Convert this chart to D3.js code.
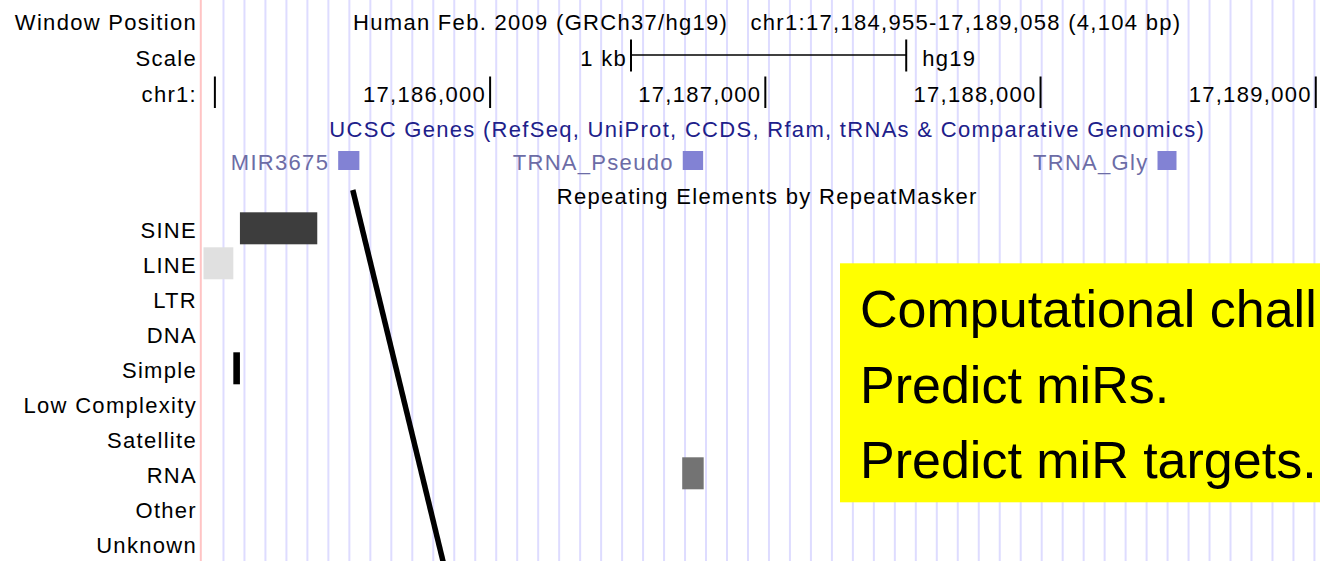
<!DOCTYPE html>
<html>
<head>
<meta charset="utf-8">
<script src="https://cdn.jsdelivr.net/npm/d3@7"></script>
<style>
    body { margin: 0; background: #fff; }
    svg { display: block; }
    .lbl { font-family: "Liberation Sans", Arial, sans-serif; font-size: 22px; letter-spacing: 1.3px; fill: #000; }
    .gene-lbl { fill: #6c6ca6; }
    .track-title { fill: #20208a; }
    .slide { font-family: "Liberation Sans", Arial, sans-serif; font-size: 52px; fill: #000; }
</style>
</head>
<body>
<div class="graphic"></div>
<script>
// window shown in the browser (hg19, chr1)
const chrom = "chr1"
const winStart = 17184955
const winEnd = 17189058
const title = "Human Feb. 2009 (GRCh37/hg19)\u00a0\u00a0\u00a0chr1:17,184,955-17,189,058 (4,104 bp)"
const rulerTicks = [17185000, 17186000, 17187000, 17188000, 17189000]
const rulerLabels = ["", "17,186,000", "17,187,000", "17,188,000", "17,189,000"]
const scaleBarBp = 1000

// UCSC Genes track
const geneNames = ["MIR3675", "TRNA_Pseudo", "TRNA_Gly"]
const geneStarts = [17185448, 17186700, 17188425]
const geneEnds = [17185525, 17186774, 17188494]

// RepeatMasker track
const repeatClasses = ["SINE", "LINE", "LTR", "DNA", "Simple", "Low Complexity", "Satellite", "RNA", "Other", "Unknown"]
const repeatClass = ["SINE", "LINE", "Simple", "RNA"]
const repeatStarts = [17185091, 17184900, 17185067, 17186698]
const repeatEnds = [17185372, 17185067, 17185091, 17186776]
const repeatShade = [0.76, 0.12, 1.0, 0.55]   // darkness of each hit

// slide text (first line is cut by the slide edge)
const slideLines = ["Computational chall", "Predict miRs.", "Predict miR targets."]

function drawBrowser(){
    var width = 1320
    var height = 561
    var left = 202.5, right = 1332   // data area of the image
    var labelX = 197
    var guideStep = 20.98

    var svg = d3.select(".graphic").append("svg")
        .attr("width", width)
        .attr("height", height)

    var x = d3.scaleLinear()
        .domain([winStart, winEnd + 1])
        .range([left, right])

    // blue guidelines
    var guides = d3.range(left + guideStep, width, guideStep)
    svg.append("g").selectAll("line")
        .data(guides)
        .join("line")
        .attr("x1", d => d).attr("x2", d => d)
        .attr("y1", 0).attr("y2", height)
        .style("stroke", "#dedcff")
        .style("stroke-width", 2)

    // red line between labels and image
    svg.append("line")
        .attr("x1", 200.8).attr("x2", 200.8)
        .attr("y1", 0).attr("y2", height)
        .style("stroke", "#ffc4c4")
        .style("stroke-width", 2)

    // left labels
    var sideLabels = [["Window Position", 30], ["Scale", 65.7], [chrom + ":", 101.7]]
    sideLabels.forEach(function(d){
        svg.append("text")
            .attr("class", "lbl")
            .attr("x", labelX)
            .attr("y", d[1])
            .attr("text-anchor", "end")
            .text(d[0])
    })

    var mid = (left + right) / 2
    svg.append("text")
        .attr("class", "lbl")
        .attr("x", mid)
        .attr("y", 30)
        .attr("text-anchor", "middle")
        .text(title)

    // scale bar
    var centerBp = (winStart + winEnd) / 2
    var sb0 = x(centerBp - scaleBarBp / 2) + 1.5
    var sb1 = x(centerBp + scaleBarBp / 2) + 1.5
    svg.append("path")
        .attr("d", "M" + sb0 + " 55 L" + sb1 + " 55")
        .style("stroke", "#000").style("stroke-width", 1.5)
    ;[sb0, sb1].forEach(function(p){
        svg.append("line")
            .attr("x1", p).attr("x2", p)
            .attr("y1", 39.5).attr("y2", 71.5)
            .style("stroke", "#000").style("stroke-width", 2)
    })
    svg.append("text")
        .attr("class", "lbl")
        .attr("x", sb0 - 4)
        .attr("y", 65.7)
        .attr("text-anchor", "end")
        .text(scaleBarBp / 1000 + " kb")
    svg.append("text")
        .attr("class", "lbl")
        .attr("x", sb1 + 16)
        .attr("y", 65.7)
        .text("hg19")

    // base position ruler
    rulerTicks.forEach(function(t, i){
        var tx = x(t)
        svg.append("line")
            .attr("x1", tx).attr("x2", tx)
            .attr("y1", 76.5).attr("y2", 108)
            .style("stroke", "#000").style("stroke-width", 2)
        svg.append("text")
            .attr("class", "lbl")
            .attr("x", tx - 4)
            .attr("y", 101.7)
            .attr("text-anchor", "end")
            .text(rulerLabels[i])
    })

    // UCSC Genes
    svg.append("text")
        .attr("class", "lbl track-title")
        .attr("x", mid)
        .attr("y", 137)
        .attr("text-anchor", "middle")
        .text("UCSC Genes (RefSeq, UniProt, CCDS, Rfam, tRNAs & Comparative Genomics)")

    geneNames.forEach(function(g, i){
        var gx = x(geneStarts[i])
        svg.append("rect")
            .attr("x", gx)
            .attr("y", 151)
            .attr("width", x(geneEnds[i]) - gx)
            .attr("height", 19)
            .style("fill", "#8282d4")
        svg.append("text")
            .attr("class", "lbl gene-lbl")
            .attr("x", gx - 9)
            .attr("y", 170)
            .attr("text-anchor", "end")
            .text(g)
    })

    // RepeatMasker
    svg.append("text")
        .attr("class", "lbl")
        .attr("x", mid)
        .attr("y", 203.5)
        .attr("text-anchor", "middle")
        .text("Repeating Elements by RepeatMasker")

    var y = d3.scaleBand()
        .domain(repeatClasses)
        .range([211, 211 + 35 * repeatClasses.length])

    repeatClasses.forEach(function(c){
        svg.append("text")
            .attr("class", "lbl")
            .attr("x", labelX)
            .attr("y", y(c) + 26.7)
            .attr("text-anchor", "end")
            .text(c)
    })

    var shade = d3.scaleLinear().domain([0, 1]).range(["#ffffff", "#000000"])
    repeatClass.forEach(function(c, i){
        var rx = Math.max(x(repeatStarts[i]), left + 1)
        svg.append("rect")
            .attr("x", rx)
            .attr("y", y(c) + 1.3)
            .attr("width", x(repeatEnds[i]) - rx)
            .attr("height", 32)
            .style("fill", shade(repeatShade[i]))
    })

    // pointer line from the miRNA
    var mirX = (x(geneStarts[0]) + x(geneEnds[0])) / 2 + 4
    svg.append("line")
        .attr("x1", mirX).attr("y1", 190)
        .attr("x2", mirX + 0.243 * (height + 10 - 190)).attr("y2", height + 10)
        .style("stroke", "#000")
        .style("stroke-width", 5.5)

    // slide callout
    svg.append("rect")
        .attr("x", 840)
        .attr("y", 263.3)
        .attr("width", 520)
        .attr("height", 239)
        .style("fill", "#ffff00")

    slideLines.forEach(function(s, i){
        svg.append("text")
            .attr("class", "slide")
            .attr("x", 860)
            .attr("y", 326.7 + 75.8 * i)
            .text(s)
    })
}

drawBrowser()
</script>
</body>
</html>
